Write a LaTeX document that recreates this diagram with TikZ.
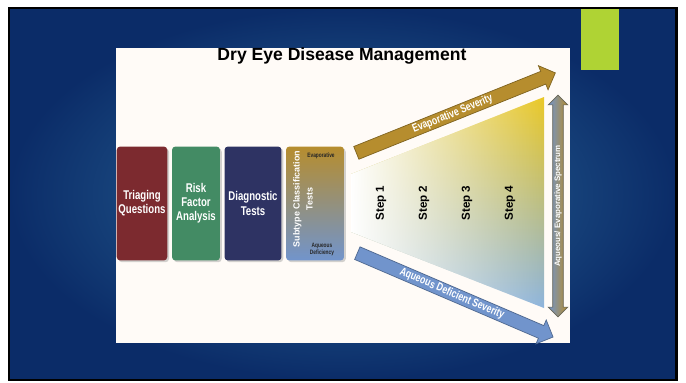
\documentclass[tikz,border=0pt]{standalone}
\usepackage{fontspec}
\setmainfont{Liberation Sans}
\newfontfamily\narrowfont{Liberation Sans}[FakeStretch=0.76]
\usetikzlibrary{shapes.arrows, shadows, fadings, positioning}

\definecolor{slidedark}{HTML}{0B2C68}
\definecolor{slidelight}{HTML}{2D6E9E}
\definecolor{barGreen}{HTML}{AFD334}
\definecolor{triageRed}{HTML}{7C2A2F}
\definecolor{riskGreen}{HTML}{438B64}
\definecolor{diagNavy}{HTML}{2E3363}
\definecolor{evapGold}{HTML}{B68D2E}
\definecolor{aqBlue}{HTML}{7194CC}
\definecolor{fanYellow}{HTML}{EAC826}
\definecolor{fanMid}{HTML}{BFC462}
\definecolor{fanBlue}{HTML}{8DB4DD}

\tikzfading[name=fanfade, left color=transparent!0, middle color=transparent!75, right color=transparent!100]

\begin{document}
\begin{tikzpicture}[x=0.02cm, y=-0.02cm,
    box/.style={rounded corners=2pt, minimum height=2.28cm, inner sep=1pt, align=center, text=white,
        font=\narrowfont\bfseries\fontsize{7.2}{8}\selectfont,
        drop shadow={opacity=0.35, shadow xshift=1pt, shadow yshift=-1pt}},
    steplabel/.style={rotate=90, font=\bfseries\fontsize{6.6}{8}\selectfont},
    sevarrow/.style={single arrow, anchor=tail, inner xsep=0pt, inner ysep=0.5pt, text height=4.9pt, text depth=1.5pt,
        single arrow head extend=3.5pt, text=white, font=\narrowfont\bfseries\fontsize{6.5}{7}\selectfont}]
    \useasboundingbox (0,0) rectangle (686,382);

    % Slide background
    \shade[inner color=slidelight, outer color=slidedark] (9,8) rectangle (676,380);
    \draw[black, line width=1.7pt] (9,8) rectangle (676,380);
    \fill[barGreen] (581,9) rectangle (619,70);
    \fill[white!97!orange] (116,48) rectangle (570,343);

    \node[font=\bfseries\fontsize{10}{12}\selectfont] (title) at (342,56) {Dry Eye Disease Management};

    % Process boxes
    \node[box, fill=triageRed, minimum width=0.96cm] (triage) at (142,203.5) {Triaging\\Questions};
    \node[box, fill=riskGreen, minimum width=0.96cm] (risk) at (196,203.5) {Risk\\Factor\\Analysis};
    \node[box, fill=diagNavy, minimum width=1.14cm] (diag) at (253,203.5) {Diagnostic\\Tests};
    \node[box, minimum width=1.16cm, top color=evapGold, middle color=fanMid!80!evapGold, bottom color=aqBlue] (subtype) at (315,203.5) {};
    \node[rotate=90, align=center, text=white, font=\bfseries\fontsize{5.1}{7.4}\selectfont] (subtitle) at (303,199) {Subtype Classification\\Tests};
    \node[text=black!85, font=\narrowfont\bfseries\fontsize{3.6}{4}\selectfont] (evap) at (321,156) {Evaporative};
    \node[align=center, text=black!85, font=\narrowfont\bfseries\fontsize{3.6}{4}\selectfont] (aqdef) at (322,249.5) {Aqueous\\Deficiency};

    % Treatment fan
    \shade[top color=fanYellow, middle color=fanMid, bottom color=fanBlue] (351,174) -- (544,97) -- (544,308) -- (351,232) -- cycle;
    \fill[white, path fading=fanfade] (351,174) -- (544,97) -- (544,308) -- (351,232) -- cycle;
    \foreach \x/\n in {381/1, 424/2, 467/3, 510/4} {
        \node[steplabel] (step\n) at (\x,203) {Step \n};
    }

    % Severity arrows
    \node[sevarrow, rotate=21.9, minimum height=4.29cm, fill=evapGold, draw=evapGold!70!black] (evapsev) at (356,153) {Evaporative Severity};
    \node[sevarrow, rotate=-23.2, minimum height=4.26cm, fill=aqBlue, draw=aqBlue!70!black] (aqsev) at (357,253) {Aqueous Deficient Severity};
    \node[double arrow, rotate=90, minimum height=4.44cm, inner xsep=0pt, inner ysep=0.4pt, text height=3.6pt, text depth=1.2pt,
        double arrow head extend=2.6pt, left color=aqBlue, right color=evapGold, draw=aqBlue!50!evapGold!70!black, text=white,
        font=\bfseries\fontsize{4.5}{5}\selectfont] (spectrum) at (558,206) {Aqueous/ Evaporative Spectrum};
\end{tikzpicture}
\end{document}
